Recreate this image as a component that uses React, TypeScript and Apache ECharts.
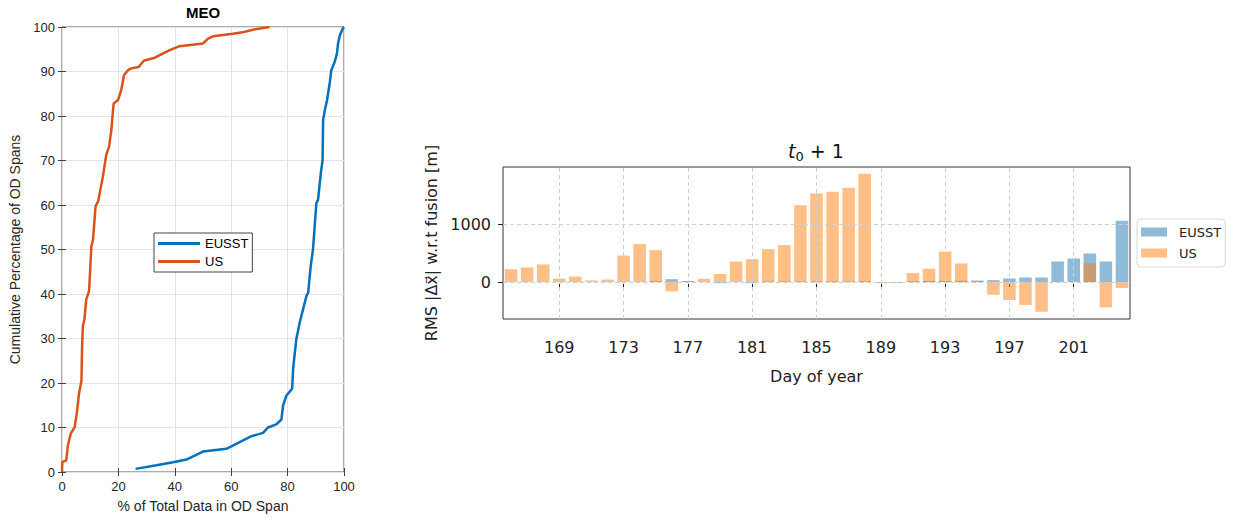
import React, { useEffect, useRef } from 'react';
import * as echarts from 'echarts';

// ---- Left panel (MEO CDF) ----
const eusstPctX = [26.1, 33.5, 39.4, 44.1, 50, 58.3, 63, 67, 71.3, 73, 76, 77.8, 78.4, 79.6, 81.6, 82, 83.1, 84.3, 85.5, 86.7, 87.3, 88.2, 89, 89.6, 90.2, 90.8, 91.8, 92.4, 92.6, 93.2, 94, 95, 95.5, 96.7, 97.5, 97.9, 98.5, 99.5, 100];
const eusstCumY = [0.7, 1.5, 2.2, 2.8, 4.6, 5.2, 6.7, 8.0, 8.8, 10.0, 10.7, 11.8, 14.9, 17.2, 18.7, 23.5, 29.9, 33.6, 36.6, 39.6, 40.3, 46.3, 50, 55.2, 60.4, 61.2, 67.2, 70.1, 79.1, 81.3, 83.6, 87.7, 90.3, 92.2, 94, 96.3, 98.1, 99.6, 100];
const usPctX = [0, 0.1, 1.5, 2.1, 3.1, 4.5, 5.3, 6.0, 6.9, 7.1, 7.4, 8.0, 8.6, 9.6, 10.0, 10.4, 11.0, 11.9, 12.8, 13.6, 14.5, 15.7, 16.7, 17.5, 18.3, 19.9, 21.0, 22.0, 23.4, 24.6, 27.2, 29.0, 32.9, 38.2, 41.7, 50.0, 51.8, 53.5, 60.6, 64.0, 67.7, 73.6];
const usCumY = [0, 2.2, 2.6, 6.0, 8.6, 10.1, 13.4, 17.5, 20.5, 27.6, 32.8, 34.5, 38.8, 40.7, 45.5, 50.7, 52.2, 59.7, 60.8, 63.4, 66.4, 71.3, 73.1, 76.9, 82.8, 83.6, 85.8, 89.2, 90.3, 90.7, 91.0, 92.4, 93.1, 94.8, 95.7, 96.3, 97.4, 97.9, 98.5, 98.8, 99.4, 100];

// ---- Right panel (t0 + 1 RMS bars) ----
const days = ['166', '167', '168', '169', '170', '171', '172', '173', '174', '175', '176', '177', '178', '179', '180', '181', '182', '183', '184', '185', '186', '187', '188', '189', '190', '191', '192', '193', '194', '195', '196', '197', '198', '199', '200', '201', '202', '203', '204'];
const eusstRms = [0, 0, 0, 0, 0, 0, 0, 0, 0, 15, 50, 15, 0, -20, 0, -20, 10, 10, 10, 10, 10, 10, 15, -10, -10, 15, 20, 20, 25, 25, 33, 62, 79, 79, 356, 408, 495, 356, 1062];
const usRms = [222, 252, 304, 60, 95, 28, 43, 459, 657, 552, -162, 20, 57, 140, 355, 395, 570, 640, 1331, 1535, 1564, 1632, 1874, -17, -15, 155, 230, 527, 322, 20, -220, -310, -396, -514, 0, 0, 325, -439, -102];
const dayTicks = ['169', '173', '177', '181', '185', '189', '193', '197', '201'];
const rmsTicks = [0, 1000];

const LEFT_FONT = 'Liberation Sans';
const RIGHT_FONT = 'DejaVu Sans';

export default function App() {
  const leftRef = useRef<HTMLDivElement>(null);
  const rightRef = useRef<HTMLDivElement>(null);

  useEffect(() => {
    const left = echarts.init(leftRef.current!, undefined, { renderer: 'svg' });
    const right = echarts.init(rightRef.current!, undefined, { renderer: 'svg' });

    const boxAxisCommon = {
      axisLine: { show: false },
      axisTick: { show: true, inside: true, length: 4, lineStyle: { color: '#404040', width: 1 } },
    };

    left.setOption({
      animation: false,
      textStyle: { fontFamily: LEFT_FONT },
      graphic: [
        {
          type: 'text',
          x: 203,
          y: 12,
          style: {
            text: 'MEO',
            fontFamily: LEFT_FONT,
            fontSize: 15,
            fontWeight: 'bold',
            fill: '#000',
            align: 'center',
            verticalAlign: 'middle',
          },
        },
      ],
      grid: {
        left: 62,
        top: 27,
        width: 282,
        height: 446,
        show: true,
        borderColor: '#595959',
        borderWidth: 1,
      },
      legend: {
        orient: 'vertical',
        left: 154,
        top: 233,
        data: ['EUSST', 'US'],
        icon: 'rect',
        itemWidth: 42,
        itemHeight: 3,
        itemGap: 3,
        padding: [3, 4, 3, 4],
        borderColor: '#444',
        borderWidth: 1,
        borderRadius: 0,
        backgroundColor: '#fff',
        textStyle: { fontSize: 13, color: '#000', fontFamily: LEFT_FONT, lineHeight: 15 },
      },
      xAxis: [
        {
          type: 'value',
          min: 0,
          max: 100,
          interval: 20,
          position: 'bottom',
          ...boxAxisCommon,
          axisLabel: { color: '#262626', fontSize: 13, margin: 8, fontFamily: LEFT_FONT },
          splitLine: { show: true, lineStyle: { color: '#e4e4e4', width: 1 } },
          name: '% of Total Data in OD Span',
          nameLocation: 'middle',
          nameGap: 27,
          nameTextStyle: { fontSize: 14, color: '#262626', fontFamily: LEFT_FONT },
        },
        {
          type: 'value',
          min: 0,
          max: 100,
          interval: 20,
          position: 'top',
          ...boxAxisCommon,
          axisLabel: { show: false },
          splitLine: { show: false },
        },
      ],
      yAxis: [
        {
          type: 'value',
          min: 0,
          max: 100,
          interval: 10,
          position: 'left',
          ...boxAxisCommon,
          axisLabel: { color: '#262626', fontSize: 13, margin: 7, fontFamily: LEFT_FONT },
          splitLine: { show: true, lineStyle: { color: '#e4e4e4', width: 1 } },
          name: 'Cumulative Percentage of OD Spans',
          nameLocation: 'middle',
          nameGap: 34,
          nameTextStyle: { fontSize: 14, color: '#262626', fontFamily: LEFT_FONT },
        },
        {
          type: 'value',
          min: 0,
          max: 100,
          interval: 10,
          position: 'right',
          ...boxAxisCommon,
          axisLabel: { show: false },
          splitLine: { show: false },
        },
      ],
      series: [
        {
          name: 'EUSST',
          type: 'line',
          xAxisIndex: 0,
          yAxisIndex: 0,
          symbol: 'none',
          data: eusstPctX.map((x, i) => [x, eusstCumY[i]]),
          lineStyle: { color: '#0072BD', width: 2.5 },
          itemStyle: { color: '#0072BD' },
        },
        {
          name: 'US',
          type: 'line',
          xAxisIndex: 0,
          yAxisIndex: 0,
          symbol: 'none',
          data: usPctX.map((x, i) => [x, usCumY[i]]),
          lineStyle: { color: '#D95319', width: 2.5 },
          itemStyle: { color: '#D95319' },
        },
      ],
    });

    const tickFilter = (_i: number, v: string) => dayTicks.indexOf(v) >= 0;

    right.setOption({
      animation: false,
      textStyle: { fontFamily: RIGHT_FONT },
      graphic: [
        {
          type: 'text',
          x: 436,
          y: 151,
          style: {
            text: '{i|t}{s|0}{n| + 1}',
            align: 'center',
            verticalAlign: 'middle',
            fill: '#111',
            rich: {
              i: { fontFamily: RIGHT_FONT, fontStyle: 'italic', fontSize: 19, lineHeight: 24, fill: '#111' },
              s: { fontFamily: RIGHT_FONT, fontSize: 13, lineHeight: 13, verticalAlign: 'bottom', fill: '#111' },
              n: { fontFamily: RIGHT_FONT, fontSize: 19, lineHeight: 24, fill: '#111' },
            },
          },
        },
      ],
      grid: {
        left: 123,
        top: 167,
        width: 627,
        height: 152,
        show: true,
        borderColor: '#333',
        borderWidth: 1,
      },
      legend: {
        orient: 'vertical',
        left: 757,
        top: 219,
        data: ['EUSST', 'US'],
        icon: 'rect',
        itemWidth: 26,
        itemHeight: 9,
        itemGap: 5,
        padding: [5, 4, 6, 4],
        borderColor: '#d9d9d9',
        borderWidth: 1,
        borderRadius: 4,
        backgroundColor: 'rgba(255,255,255,0.8)',
        textStyle: { fontSize: 13, color: '#222', fontFamily: RIGHT_FONT, lineHeight: 16, padding: [0, 0, 0, 7] },
      },
      xAxis: {
        type: 'category',
        data: days,
        boundaryGap: true,
        axisLine: { show: false },
        axisTick: {
          show: true,
          alignWithLabel: true,
          interval: tickFilter,
          length: 5,
          lineStyle: { color: '#222', width: 1 },
        },
        axisLabel: { interval: tickFilter, fontSize: 16, color: '#222', margin: 20, fontFamily: RIGHT_FONT },
        splitLine: { show: false },
        name: 'Day of year',
        nameLocation: 'middle',
        nameGap: 49,
        nameTextStyle: { fontSize: 16, color: '#222', fontFamily: RIGHT_FONT },
      },
      yAxis: {
        type: 'value',
        min: -640,
        max: 1993,
        axisLine: { show: false },
        axisTick: { show: true, customValues: rmsTicks, length: 5, lineStyle: { color: '#222', width: 1 } },
        axisLabel: {
          customValues: rmsTicks,
          formatter: (v: number) => String(v),
          fontSize: 16,
          color: '#222',
          margin: 12,
          fontFamily: RIGHT_FONT,
        },
        splitLine: { show: false },
        name: 'RMS |Δx⃗| w.r.t fusion [m]',
        nameLocation: 'middle',
        nameGap: 62,
        nameTextStyle: { fontSize: 16, color: '#222', fontFamily: RIGHT_FONT },
      },
      series: [
        {
          name: 'EUSST',
          type: 'bar',
          data: eusstRms,
          barWidth: '78%',
          barGap: '-100%',
          itemStyle: { color: 'rgba(31,119,180,0.5)' },
          markLine: {
            silent: true,
            symbol: ['none', 'none'],
            label: { show: false },
            lineStyle: { type: [4, 3], color: '#d0d0d0', width: 1 },
            data: [
              ...dayTicks.map((d) => ({ xAxis: d })),
              ...rmsTicks.map((v) => ({ yAxis: v })),
            ],
          },
        },
        {
          name: 'US',
          type: 'bar',
          data: usRms,
          barWidth: '78%',
          barGap: '-100%',
          itemStyle: { color: 'rgba(255,127,14,0.5)' },
        },
      ],
    });

    return () => {
      left.dispose();
      right.dispose();
    };
  }, []);

  return (
    <div style={{ position: 'fixed', left: 0, top: 0, width: 1233, height: 518, background: '#fff' }}>
      <div ref={leftRef} style={{ position: 'absolute', left: 0, top: 0, width: 380, height: 518 }} />
      <div ref={rightRef} style={{ position: 'absolute', left: 380, top: 0, width: 853, height: 518 }} />
    </div>
  );
}
